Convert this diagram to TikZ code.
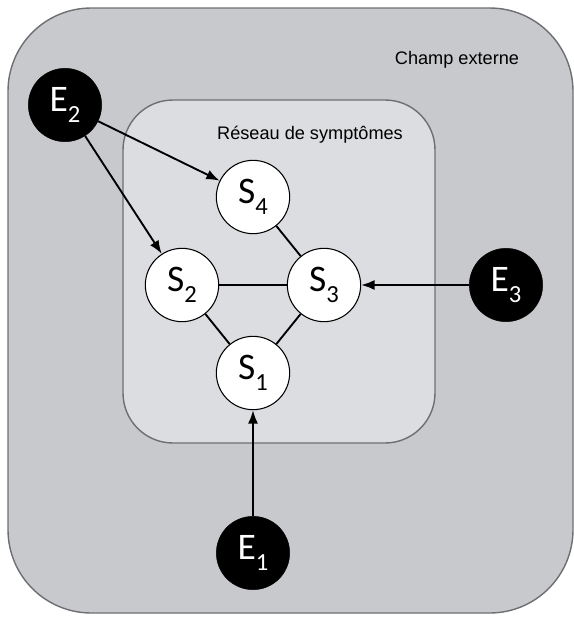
\documentclass[tikz,border=0pt]{standalone}
\usepackage{fontspec}
\setmainfont{Liberation Sans}
\newfontfamily\nodefont{Carlito}
\usetikzlibrary{arrows.meta}

\definecolor{champgris}{HTML}{C8C9CC}
\definecolor{reseaugris}{HTML}{DCDDE0}
\definecolor{bordgris}{HTML}{6E6F72}

\newcommand{\indice}[1]{\raisebox{-0.28em}{\fontsize{21}{24}\selectfont #1}}

\begin{document}
\begin{tikzpicture}[x=0.3mm, y=-0.3mm,
    sym/.style={draw=black, fill=white, circle, line width=0.9pt, minimum size=2.2cm, inner sep=0pt, font=\nodefont\fontsize{32}{36}\selectfont},
    ext/.style={draw=black, fill=black, circle, minimum size=2.2cm, inner sep=0pt, text=white, font=\nodefont\fontsize{32}{36}\selectfont},
    fleche/.style={-{Latex[length=4mm, width=3mm]}, line width=1.6pt},
    lien/.style={line width=1.6pt},
    titre/.style={font=\fontsize{15.5}{18}\selectfont}]
        \useasboundingbox (0,0) rectangle (574,617);

        % cadres
        \draw[bordgris, fill=champgris, line width=1.2pt, rounded corners=2.5cm] (8,8) rectangle (573,613);
        \draw[bordgris, fill=reseaugris, line width=1.2pt, rounded corners=1.5cm] (123,100) rectangle (435,443);

        \node[titre] (champ) at (457,60) {Champ externe};
        \node[titre] (reseau) at (310,135) {Réseau de symptômes};

        % symptomes
        \node[sym] (S4) at (253,197) {S\indice{4}};
        \node[sym] (S2) at (182,285) {S\indice{2}};
        \node[sym] (S3) at (324,285) {S\indice{3}};
        \node[sym] (S1) at (253,373) {S\indice{1}};

        % facteurs externes
        \node[ext] (E2) at (65,105) {E\indice{2}};
        \node[ext] (E3) at (506,285) {E\indice{3}};
        \node[ext] (E1) at (253,553) {E\indice{1}};

        \draw[lien] (S4) -- (S3);
        \draw[lien] (S2) -- (S3);
        \draw[lien] (S2) -- (S1);
        \draw[lien] (S3) -- (S1);

        \begin{scope}[fleche]
            \draw (E2) -- (S4);
            \draw (E2) -- (S2);
            \draw (E3) -- (S3);
            \draw (E1) -- (S1);
        \end{scope}
    \end{tikzpicture}
\end{document}
